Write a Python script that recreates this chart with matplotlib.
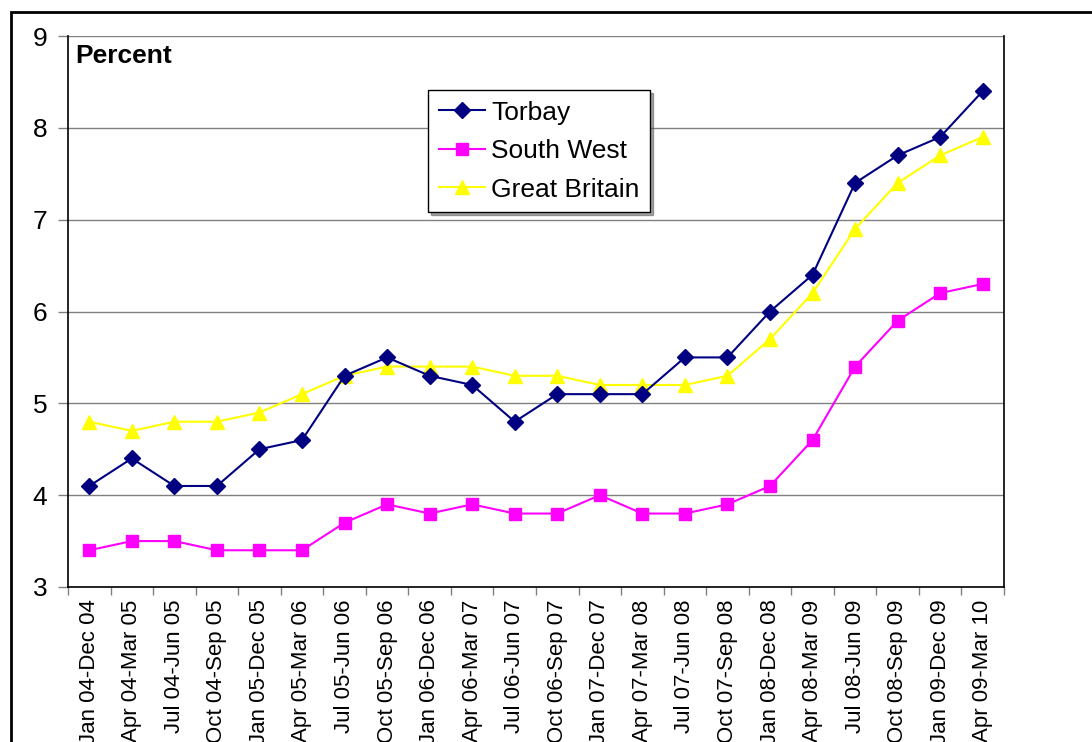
import matplotlib
matplotlib.use("Agg")
import matplotlib.pyplot as plt
from matplotlib.patches import Rectangle
import numpy as np

plt.rcParams['font.family'] = ['Liberation Sans', 'DejaVu Sans']

periods = ["Jan 04-Dec 04", "Apr 04-Mar 05", "Jul 04-Jun 05", "Oct 04-Sep 05",
           "Jan 05-Dec 05", "Apr 05-Mar 06", "Jul 05-Jun 06", "Oct 05-Sep 06",
           "Jan 06-Dec 06", "Apr 06-Mar 07", "Jul 06-Jun 07", "Oct 06-Sep 07",
           "Jan 07-Dec 07", "Apr 07-Mar 08", "Jul 07-Jun 08", "Oct 07-Sep 08",
           "Jan 08-Dec 08", "Apr 08-Mar 09", "Jul 08-Jun 09", "Oct 08-Sep 09",
           "Jan 09-Dec 09", "Apr 09-Mar 10"]
torbay = [4.1, 4.4, 4.1, 4.1, 4.5, 4.6, 5.3, 5.5, 5.3, 5.2, 4.8, 5.1,
          5.1, 5.1, 5.5, 5.5, 6.0, 6.4, 7.4, 7.7, 7.9, 8.4]
south_west = [3.4, 3.5, 3.5, 3.4, 3.4, 3.4, 3.7, 3.9, 3.8, 3.9, 3.8, 3.8,
              4.0, 3.8, 3.8, 3.9, 4.1, 4.6, 5.4, 5.9, 6.2, 6.3]
great_britain = [4.8, 4.7, 4.8, 4.8, 4.9, 5.1, 5.3, 5.4, 5.4, 5.4, 5.3, 5.3,
                 5.2, 5.2, 5.2, 5.3, 5.7, 6.2, 6.9, 7.4, 7.7, 7.9]
y_ticks = [3, 4, 5, 6, 7, 8, 9]

W, H = 1092, 742
fig = plt.figure(figsize=(W / 100, H / 100), dpi=100)

# outer chart frame (runs off the right and bottom edges)
fig.patches.append(Rectangle((11 / W, -0.1), 1.2, (H - 12) / H + 0.1,
                             transform=fig.transFigure, fill=False,
                             edgecolor='black', linewidth=2, zorder=0))

ax = fig.add_axes([68 / W, (H - 587) / H, 936 / W, 551 / H])
x = np.arange(len(periods))

ax.plot(x, torbay, color='#000080', marker='D', markersize=8, linewidth=1.5,
        label='Torbay', zorder=5)
ax.plot(x, south_west, color='#FF00FF', marker='s', markersize=8, linewidth=1.5,
        label='South West', zorder=4)
ax.plot(x, great_britain, color='#FFFF00', marker='^', markersize=10, linewidth=1.5,
        label='Great Britain', zorder=3)

ax.set_xlim(-0.5, len(periods) - 0.5)
ax.set_ylim(3, 9)
ax.set_yticks(y_ticks)
ax.set_yticklabels([str(v) for v in y_ticks], fontsize=19)
ax.yaxis.grid(True, color='#808080', linewidth=1)
ax.set_axisbelow(True)

# ticks on category boundaries, labels at category centres
ax.set_xticks(np.arange(len(periods) + 1) - 0.5)
ax.set_xticklabels([])
ax.set_xticks(x, minor=True)
ax.set_xticklabels(periods, minor=True, rotation=90, fontsize=16, va='top')
ax.tick_params(axis='x', which='major', length=6, width=1, color='#808080')
ax.tick_params(axis='x', which='minor', length=0, pad=9)
ax.tick_params(axis='y', length=7, width=1, color='#808080', pad=8)

ax.spines['top'].set_visible(False)
for s in ('left', 'right', 'bottom'):
    ax.spines[s].set_color('black')
    ax.spines[s].set_linewidth(1.2)

ax.text(0.008, 0.985, 'Percent', transform=ax.transAxes, fontsize=19,
        fontweight='bold', va='top', ha='left')

leg = ax.legend(loc='upper left', bbox_to_anchor=((428 - 68) / 936, (587 - 90) / 551),
                fontsize=19, frameon=True, fancybox=False, shadow=True,
                borderpad=0.4, labelspacing=0.55, handlelength=1.75,
                handletextpad=0.25, borderaxespad=0)
leg.get_frame().set_edgecolor('black')
leg.get_frame().set_linewidth(1)

fig.savefig('out.png', dpi=100)
